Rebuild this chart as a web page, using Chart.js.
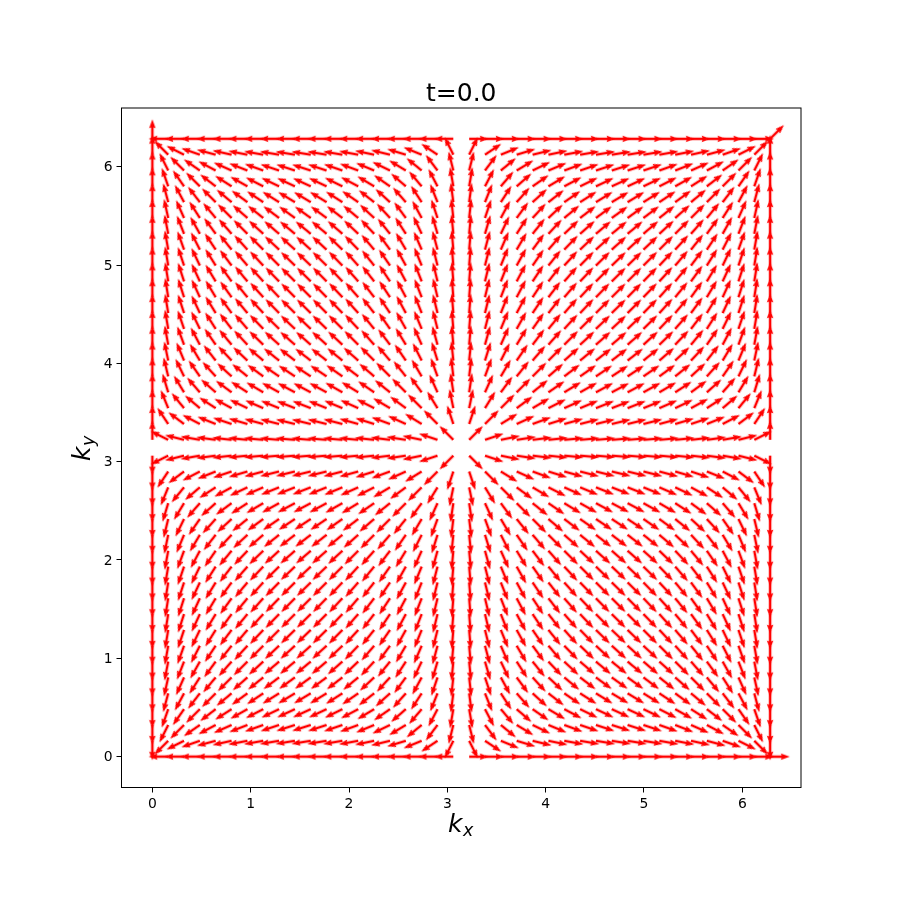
<!DOCTYPE html>
<html>
<head>
<meta charset="utf-8">
<title>t=0.0</title>
<script src="https://cdn.jsdelivr.net/npm/chart.js@4/dist/chart.umd.min.js"></script>
<style>
    html, body { margin: 0; background: #fff; }
    canvas { display: block; }
</style>
</head>
<body>
<canvas id="chart" width="900" height="900"></canvas>
<script>
// grid positions of the arrow tails
var kx = [0, 0.161, 0.322, 0.483, 0.644, 0.806, 0.967, 1.128, 1.289, 1.45,
    1.611, 1.772, 1.933, 2.094, 2.256, 2.417, 2.578, 2.739, 2.9, 3.061,
    3.222, 3.383, 3.544, 3.705, 3.867, 4.028, 4.189, 4.35, 4.511, 4.672,
    4.833, 4.994, 5.156, 5.317, 5.478, 5.639, 5.8, 5.961, 6.122, 6.283];
var ky = kx.slice();

// horizontal part of the arrows, per column
var uByColumn = [0, -0.16, -0.32, -0.46, -0.6, -0.72, -0.82, -0.9, -0.96, -0.99,
    -1, -0.98, -0.94, -0.87, -0.77, -0.66, -0.53, -0.39, -0.24, -0.08,
    0.08, 0.24, 0.39, 0.53, 0.66, 0.77, 0.87, 0.94, 0.98, 1,
    0.99, 0.96, 0.9, 0.82, 0.72, 0.6, 0.46, 0.32, 0.16, 2e-16];
// vertical part of the arrows, per row
var vByRow = [0, -0.16, -0.32, -0.46, -0.6, -0.72, -0.82, -0.9, -0.96, -0.99,
    -1, -0.98, -0.94, -0.87, -0.77, -0.66, -0.53, -0.39, -0.24, -0.08,
    0.08, 0.24, 0.39, 0.53, 0.66, 0.77, 0.87, 0.94, 0.98, 1,
    0.99, 0.96, 0.9, 0.82, 0.72, 0.6, 0.46, 0.32, 0.16, 2e-16];

var tickValues = [0, 1, 2, 3, 4, 5, 6];
var titleText = 't=0.0';

document.addEventListener('DOMContentLoaded', function() {
    var font = '"DejaVu Sans"';

    // one arrow pointing right with its tail in the middle of the canvas,
    // Chart.js turns it per point through the rotation option
    var arrow = document.createElement('canvas');
    arrow.width = 48;
    arrow.height = 48;
    var a = arrow.getContext('2d');
    a.translate(24, 24);
    a.fillStyle = '#ff0000';
    a.beginPath();
    a.moveTo(0, -1.15);
    a.lineTo(11.5, -1.15);
    a.lineTo(10.6, -3.2);
    a.lineTo(19.6, 0);
    a.lineTo(10.6, 3.2);
    a.lineTo(11.5, 1.15);
    a.lineTo(0, 1.15);
    a.closePath();
    a.fill();

    var points = [];
    kx.forEach(function(x, i) {
        ky.forEach(function(y, j) {
            var u = uByColumn[i], v = vByRow[j];
            if (u === 0 && v === 0) return;
            points.push({x: x, y: y, angle: Math.atan2(-v, u) * 180 / Math.PI});
        });
    });

    // frame on all four sides and the k_x / k_y labels
    var framePlugin = {
        id: 'frame',
        afterDraw: function(chart) {
            var c = chart.ctx, area = chart.chartArea;
            c.save();
            c.strokeStyle = '#000';
            c.lineWidth = 1;
            c.strokeRect(area.left, area.top, area.right - area.left, area.bottom - area.top);
            c.fillStyle = '#000';
            c.textBaseline = 'alphabetic';
            c.textAlign = 'left';
            c.font = 'italic 25px ' + font;
            c.fillText('k', 448, 832);
            c.font = 'italic 17.5px ' + font;
            c.fillText('x', 463, 836);
            c.translate(90, 461);
            c.rotate(-Math.PI / 2);
            c.font = 'italic 25px ' + font;
            c.fillText('k', 0, 0);
            c.font = 'italic 17.5px ' + font;
            c.fillText('y', 15, 4);
            c.restore();
        }
    };

    function axis(size, key, labelOffset) {
        return {
            type: 'linear',
            min: -0.314,
            max: 6.597,
            afterBuildTicks: function(scale) {
                scale.ticks = tickValues.map(function(v) { return {value: v}; });
            },
            afterFit: function(scale) { scale[key] = size; },
            border: {display: false},
            grid: {drawOnChartArea: false, color: '#000', tickColor: '#000', tickLength: 5, lineWidth: 1},
            ticks: {
                color: '#000',
                padding: 4,
                labelOffset: labelOffset,
                maxRotation: 0,
                autoSkip: false,
                font: {family: font, size: 13.9},
                callback: function(v) { return String(v); }
            }
        };
    }

    new Chart(document.getElementById('chart').getContext('2d'), {
        type: 'scatter',
        data: {
            datasets: [{
                label: 'k',
                data: points,
                pointStyle: arrow,
                pointRadius: 1,
                rotation: function(c) { return c.raw ? c.raw.angle : 0; }
            }]
        },
        options: {
            responsive: false,
            animation: false,
            events: [],
            layout: {padding: {left: 0, right: 99, top: 81.5, bottom: 0}},
            plugins: {
                legend: {display: false},
                tooltip: {enabled: false},
                title: {
                    display: true,
                    fullSize: false,
                    text: titleText,
                    color: '#000',
                    font: {family: font, size: 25, weight: 'normal', lineHeight: 1},
                    padding: {top: 0, bottom: 1.5}
                }
            },
            scales: {
                x: axis(112.5, 'height', 0),
                y: axis(121.5, 'width', 1)
            }
        },
        plugins: [framePlugin]
    });
});
</script>
</body>
</html>
